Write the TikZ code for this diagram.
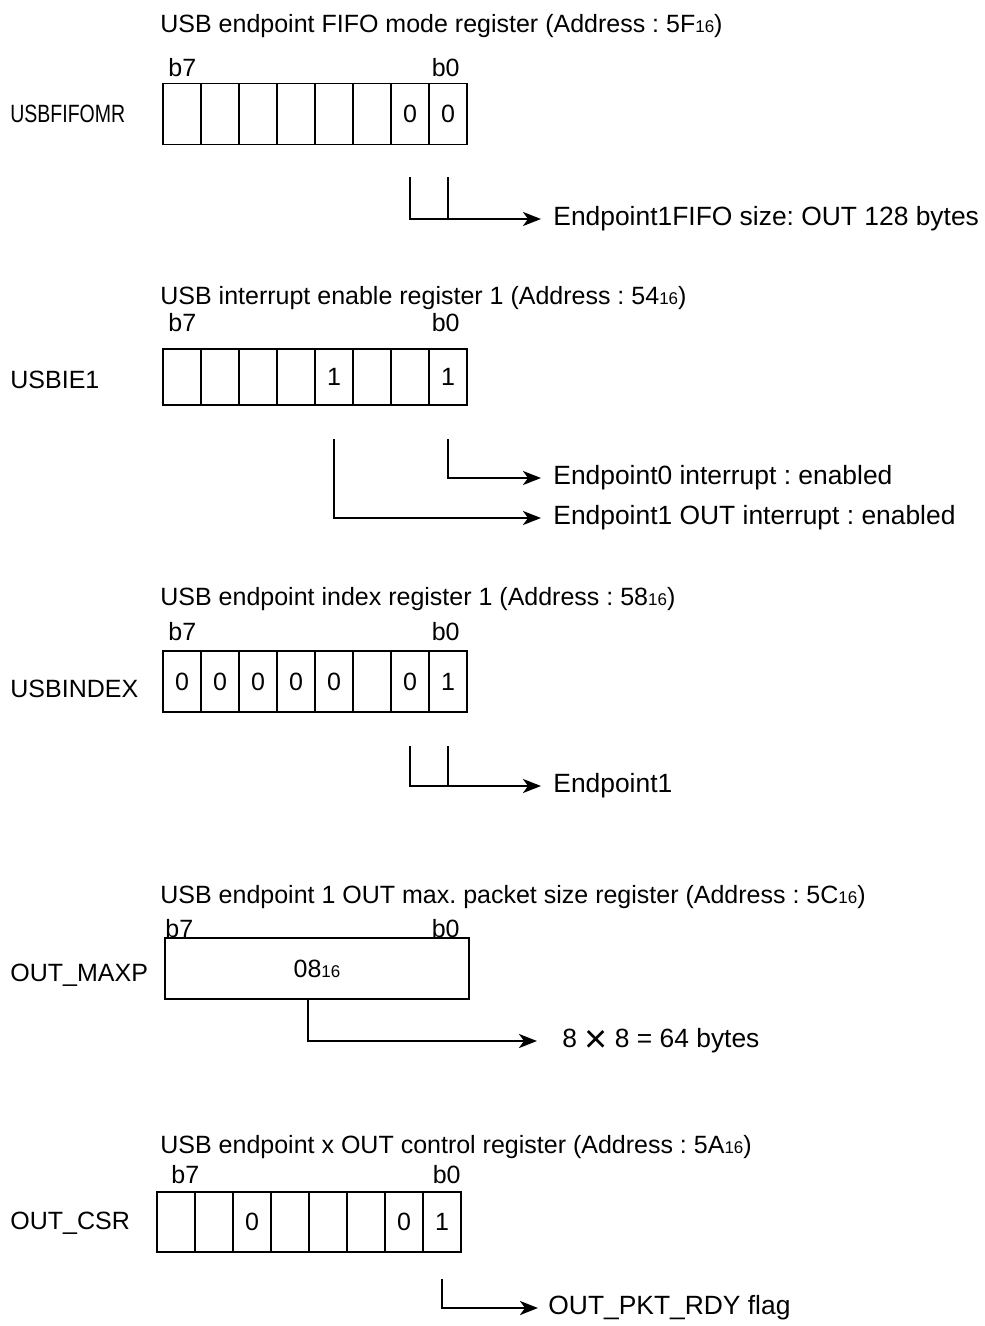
\documentclass[tikz,border=0pt]{standalone}
\usepackage{fontspec}
\setmainfont{Liberation Sans}
\usepackage{tikz}
\usetikzlibrary{positioning, arrows.meta}
\frenchspacing

\newcommand{\hexsub}[1]{{\fontsize{8.5}{9}\selectfont #1}}

\tikzstyle{bitcell} = [rectangle, draw=black, line width=0.75pt, minimum width=19pt, minimum height=30.5pt, inner sep=0pt, outer sep=0pt]
\tikzstyle{regname} = [anchor=base west, inner sep=0pt]
\tikzstyle{bitno} = [inner sep=0pt]
\tikzstyle{note} = [anchor=west, inner sep=0pt, font=\fontsize{13.2}{15}\selectfont]
\tikzstyle{arrow} = [line width=1.2pt, -{Stealth[length=9pt, width=7pt, inset=2.5pt]}]
\tikzstyle{wire} = [line width=1.2pt]

\begin{document}
\begin{tikzpicture}[x=0.5pt, y=-0.5pt, font=\fontsize{12.5}{15}\selectfont]
  \useasboundingbox (0,0) rectangle (984,1326);

  % USB endpoint FIFO mode register
  \node (fifoTitle) [regname] at (160,33) {USB endpoint FIFO mode register (Address : 5F\hexsub{16})};
  \node (fifoName) [regname] at (10,123) {\scalebox{0.78}[1]{USBFIFOMR}};
  \node (fifo7) [bitcell] at (182,114) {};
  \node (fifo6) [bitcell, right=0pt of fifo7] {};
  \node (fifo5) [bitcell, right=0pt of fifo6] {};
  \node (fifo4) [bitcell, right=0pt of fifo5] {};
  \node (fifo3) [bitcell, right=0pt of fifo4] {};
  \node (fifo2) [bitcell, right=0pt of fifo3] {};
  \node (fifo1) [bitcell, right=0pt of fifo2] {0};
  \node (fifo0) [bitcell, right=0pt of fifo1] {0};
  \node (fifoB7) [bitno, anchor=base west] at ([xshift=2.5pt, yshift=3.5pt]fifo7.north west) {b7};
  \node (fifoB0) [bitno, anchor=base east] at ([xshift=-3.5pt, yshift=3.5pt]fifo0.north east) {b0};
  \node (fifoNote) [note] at (553,219) {Endpoint1FIFO size: OUT 128 bytes};
  \draw[arrow] ([yshift=-16.5pt]fifo1.south) |- ([xshift=-6pt]fifoNote.west);
  \draw[wire] ([yshift=-16.5pt]fifo0.south) -- (fifo0.south |- fifoNote.west);

  % USB interrupt enable register 1
  \node (ieTitle) [regname] at (160,305) {USB interrupt enable register 1 (Address : 54\hexsub{16})};
  \node (ieName) [regname] at (10,388) {USBIE1};
  \node (ie7) [bitcell, minimum height=28pt] at (182,377) {};
  \node (ie6) [bitcell, minimum height=28pt, right=0pt of ie7] {};
  \node (ie5) [bitcell, minimum height=28pt, right=0pt of ie6] {};
  \node (ie4) [bitcell, minimum height=28pt, right=0pt of ie5] {};
  \node (ie3) [bitcell, minimum height=28pt, right=0pt of ie4] {1};
  \node (ie2) [bitcell, minimum height=28pt, right=0pt of ie3] {};
  \node (ie1) [bitcell, minimum height=28pt, right=0pt of ie2] {};
  \node (ie0) [bitcell, minimum height=28pt, right=0pt of ie1] {1};
  \node (ieB7) [bitno, anchor=base west] at ([xshift=2.5pt, yshift=8.5pt]ie7.north west) {b7};
  \node (ieB0) [bitno, anchor=base east] at ([xshift=-3.5pt, yshift=8.5pt]ie0.north east) {b0};
  \node (ieNote0) [note] at (553,478) {Endpoint0 interrupt : enabled};
  \node (ieNote1) [note] at (553,518) {Endpoint1 OUT interrupt : enabled};
  \draw[arrow] ([yshift=-17pt]ie0.south) |- ([xshift=-6pt]ieNote0.west);
  \draw[arrow] ([yshift=-17pt]ie3.south) |- ([xshift=-6pt]ieNote1.west);

  % USB endpoint index register 1
  \node (idxTitle) [regname] at (160,605) {USB endpoint index register 1 (Address : 58\hexsub{16})};
  \node (idxName) [regname] at (10,697) {USBINDEX};
  \node (idx7) [bitcell] at (182,681.5) {0};
  \node (idx6) [bitcell, right=0pt of idx7] {0};
  \node (idx5) [bitcell, right=0pt of idx6] {0};
  \node (idx4) [bitcell, right=0pt of idx5] {0};
  \node (idx3) [bitcell, right=0pt of idx4] {0};
  \node (idx2) [bitcell, right=0pt of idx3] {};
  \node (idx1) [bitcell, right=0pt of idx2] {0};
  \node (idx0) [bitcell, right=0pt of idx1] {1};
  \node (idxB7) [bitno, anchor=base west] at ([xshift=2.5pt, yshift=5.5pt]idx7.north west) {b7};
  \node (idxB0) [bitno, anchor=base east] at ([xshift=-3.5pt, yshift=5.5pt]idx0.north east) {b0};
  \node (idxNote) [note] at (553,786) {Endpoint1};
  \draw[arrow] ([yshift=-17pt]idx1.south) |- ([xshift=-6pt]idxNote.west);
  \draw[wire] ([yshift=-17pt]idx0.south) -- (idx0.south |- idxNote.west);

  % USB endpoint 1 OUT max. packet size register
  \node (maxpTitle) [regname] at (160,903) {USB endpoint 1 OUT max. packet size register (Address : 5C\hexsub{16})};
  \node (maxpName) [regname] at (10,981) {OUT\_MAXP};
  \node (maxp) [bitcell, minimum width=152pt] at (317,968.5) {08\hexsub{16}};
  \node (maxpB7) [bitno, anchor=base west] at ([xshift=0pt, yshift=0.5pt]maxp.north west) {b7};
  \node (maxpB0) [bitno, anchor=base east] at ([xshift=-4.5pt, yshift=0.5pt]maxp.north east) {b0};
  \node (maxpNote) [note] at (562,1041) {8 \scalebox{1.5}{\raisebox{-0.12em}{×}} 8 = 64 bytes};
  \draw[arrow] ([xshift=-4.5pt]maxp.south) |- ([xshift=-12.5pt]maxpNote.west);

  % USB endpoint x OUT control register
  \node (csrTitle) [regname] at (160,1153) {USB endpoint x OUT control register (Address : 5A\hexsub{16})};
  \node (csrName) [regname] at (10,1229) {OUT\_CSR};
  \node (csr7) [bitcell, minimum height=30pt] at (176,1222) {};
  \node (csr6) [bitcell, minimum height=30pt, right=0pt of csr7] {};
  \node (csr5) [bitcell, minimum height=30pt, right=0pt of csr6] {0};
  \node (csr4) [bitcell, minimum height=30pt, right=0pt of csr5] {};
  \node (csr3) [bitcell, minimum height=30pt, right=0pt of csr4] {};
  \node (csr2) [bitcell, minimum height=30pt, right=0pt of csr3] {};
  \node (csr1) [bitcell, minimum height=30pt, right=0pt of csr2] {0};
  \node (csr0) [bitcell, minimum height=30pt, right=0pt of csr1] {1};
  \node (csrB7) [bitno, anchor=base west] at ([xshift=7pt, yshift=4.5pt]csr7.north west) {b7};
  \node (csrB0) [bitno, anchor=base east] at ([xshift=0pt, yshift=4.5pt]csr0.north east) {b0};
  \node (csrNote) [note] at (548,1308) {OUT\_PKT\_RDY flag};
  \draw[arrow] ([yshift=-13.5pt]csr0.south) |- ([xshift=-5pt]csrNote.west);
\end{tikzpicture}
\end{document}
